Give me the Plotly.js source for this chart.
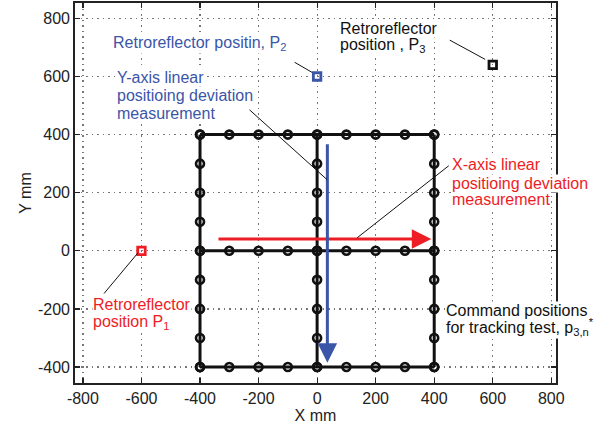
<!DOCTYPE html>
<html><head><meta charset="utf-8">
<script src="https://cdn.plot.ly/plotly-3.0.1.min.js"></script>
<style>html,body{margin:0;padding:0;background:#fff}</style>
</head><body><div id="chart" style="width:599px;height:432px"></div>
<script>
// ---- data ----
const gridSteps = [-400, -300, -200, -100, 0, 100, 200, 300, 400];
const edgeLevels = [400, -400, 0];        // horizontal runs (y) and vertical runs (x)
const p1 = {x: -600, y: 0};
const p2 = {x: 0, y: 600};
const p3 = {x: 600, y: 640};
const xTicks = [-800, -600, -400, -200, 0, 200, 400, 600, 800];
const xTickText = ['-800', '-600', '-400', '-200', '0', '200', '400', '600', '800'];
const yTicks = [-400, -200, 0, 200, 400, 600, 800];
const yTickText = ['-400', '-200', '0', '200', '400', '600', '800'];
const redArrow = {x0: -342, y0: 41, x1: 390, y1: 41};
const blueArrow = {x0: 35, y0: 372, x1: 35, y1: -385};
const leaderLines = [
  {x0: -82, y0: 652, x1: -17, y1: 614},
  {x0: -236, y0: 490, x1: 34, y1: 245},
  {x0: 455, y0: 297, x1: 137, y1: 45},
  {x0: -732, y0: -152, x1: -612, y1: -7},
  {x0: 448, y0: 728, x1: 574, y1: 659}
];
// text blocks: one entry per line (top line first)
const labelP2 = {x: -701, ys: [714], lines: ['Retroreflector positin, P<sub>2</sub>']};
const labelY = {x: -687, ys: [597, 533, 471], lines: ['Y-axis linear', 'positioing deviation', 'measurement']};
const labelP3 = {x: 75, ys: [765, 707], lines: ['Retroreflector', 'position , P<sub>3</sub>']};
const labelX = {x: 458, ys: [297, 232, 175], lines: ['X-axis linear', 'positioing deviation', 'measurement']};
const labelP1 = {x: -769, ys: [-186, -247], lines: ['Retroreflector', 'position P<sub>1</sub>']};
const labelCmd = {x: 438, ys: [-205, -262], lines: ['Command positions', 'for tracking test, p<sub>3,n</sub><sup>*</sup>']};

const BLUE = '#3b55a8', RED = '#ee1c24';
const traces = [];
const lineStyle = {color: '#111', width: 3};
const markerStyle = {symbol: 'circle-open', size: 8, color: '#111', line: {width: 2.6, color: '#111'}};
edgeLevels.forEach(v => {
  traces.push({x: gridSteps, y: gridSteps.map(() => v), mode: 'lines+markers', line: lineStyle, marker: markerStyle});
  traces.push({x: gridSteps.map(() => v), y: gridSteps, mode: 'lines+markers', line: lineStyle, marker: markerStyle});
});
[[p1, RED], [p2, BLUE], [p3, '#111']].forEach(([p, c]) => {
  traces.push({x: [p.x], y: [p.y], mode: 'markers',
    marker: {symbol: 'square-open', size: 7.5, color: c, line: {width: 2.8, color: c}}});
});

const FAM = 'Liberation Sans, Arial, sans-serif';
const annotations = [
  {x: redArrow.x1, y: redArrow.y1, ax: redArrow.x0, ay: redArrow.y0, axref: 'x', ayref: 'y', xref: 'x', yref: 'y',
   showarrow: true, arrowhead: 2, arrowsize: 1.3, arrowwidth: 3, arrowcolor: RED, text: ''},
  {x: blueArrow.x1, y: blueArrow.y1, ax: blueArrow.x0, ay: blueArrow.y0, axref: 'x', ayref: 'y', xref: 'x', yref: 'y',
   showarrow: true, arrowhead: 2, arrowsize: 1.3, arrowwidth: 3, arrowcolor: BLUE, text: ''}
];
[[labelP2, BLUE], [labelY, BLUE], [labelP3, '#111'], [labelX, RED], [labelP1, RED], [labelCmd, '#111']].forEach(([b, c]) => {
  // bottom line first so upper lines' white boxes stay on top
  for (let i = b.lines.length - 1; i >= 0; i--) {
    annotations.push({x: b.x, y: b.ys[i], xref: 'x', yref: 'y', xanchor: 'left', yanchor: 'middle',
      showarrow: false, align: 'left', bgcolor: '#ffffff', borderpad: 0, text: b.lines[i],
      font: {family: FAM, size: 16, color: c}});
  }
});
leaderLines.forEach(l => annotations.push({x: l.x1, y: l.y1, ax: l.x0, ay: l.y0, xref: 'x', yref: 'y',
  axref: 'x', ayref: 'y', showarrow: true, arrowhead: 0, arrowwidth: 1, arrowcolor: '#111', text: '',
  standoff: 0, startstandoff: 0}));

const axisCommon = {
  showline: true, mirror: 'ticks', linecolor: '#222', linewidth: 1.8,
  ticks: 'inside', ticklen: 5, tickcolor: '#222', tickwidth: 1.2,
  showgrid: true, gridcolor: '#777', griddash: '1.5px,4px', gridwidth: 1.2,
  zeroline: false, tickfont: {family: FAM, size: 16, color: '#222'}
};
const layout = {
  width: 599, height: 432,
  margin: {l: 75, r: 43, t: 3, b: 49},
  showlegend: false, hovermode: false,
  paper_bgcolor: '#fff', plot_bgcolor: '#fff',
  xaxis: Object.assign({}, axisCommon, {range: [-827, 816], tickvals: xTicks, ticktext: xTickText, tickmode: 'array',
    title: {text: 'X mm', font: {family: FAM, size: 16, color: '#222'}, standoff: 4}}),
  yaxis: Object.assign({}, axisCommon, {range: [-455, 853], tickvals: yTicks, ticktext: yTickText, tickmode: 'array',
    title: {text: 'Y mm', font: {family: FAM, size: 16, color: '#222'}, standoff: 2}}),
  annotations: annotations
};
Plotly.newPlot('chart', traces, layout, {displayModeBar: false, staticPlot: true});
</script>
</body></html>
